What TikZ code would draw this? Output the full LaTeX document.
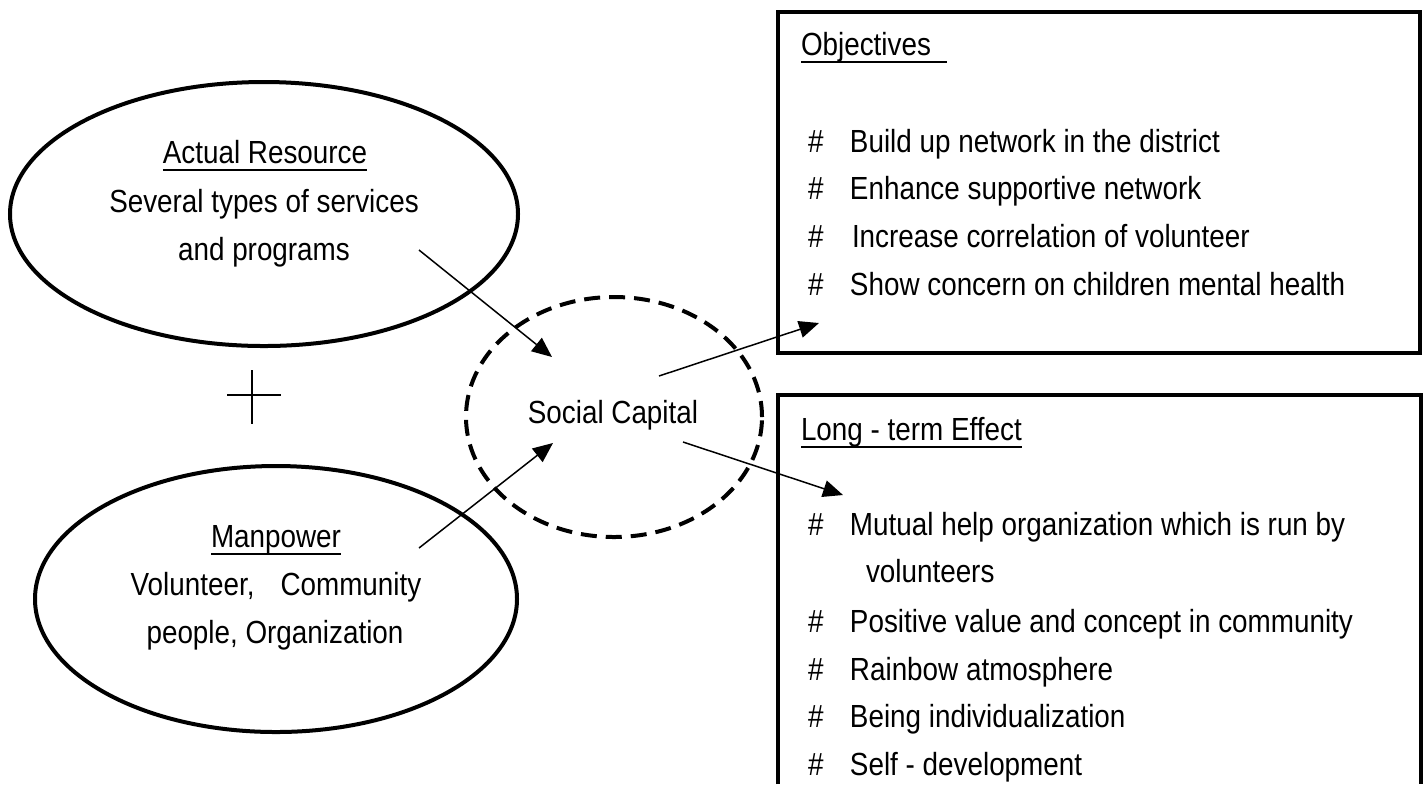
\documentclass[tikz,border=0pt]{standalone}
\usepackage{fontspec}
\setmainfont[FakeStretch=0.87]{Liberation Sans}
\usetikzlibrary{shapes.geometric,arrows.meta}
\newcommand{\hashmark}{\makebox[21pt][l]{\#}}
\begin{document}
\begin{tikzpicture}[x=0.5pt,y=-0.5pt,
  every node/.style={inner sep=0pt, outer sep=0pt},
  txt/.style={font=\fontsize{16pt}{19pt}\selectfont},
  ctext/.style={txt, anchor=base},
  ltext/.style={txt, anchor=base west},
  bigell/.style={draw, ellipse, line width=2pt},
  dashell/.style={draw, ellipse, line width=2pt, dash pattern=on 8pt off 4.5pt},
  frame/.style={draw, line width=2pt},
  uline/.style={line width=0.8pt},
  conn/.style={line width=0.75pt, -{Triangle[length=10pt,width=8.5pt]}},
  thinline/.style={line width=0.7pt}]
\useasboundingbox (0,0) rectangle (1428,784);

% ellipses
\node[bigell, minimum width=254pt, minimum height=132pt] (res) at (264,214) {};
\node[bigell, minimum width=241pt, minimum height=133pt] (man) at (276,599) {};
\node[dashell, minimum width=148pt, minimum height=120pt] (soc) at (614,417) {};

% top ellipse text
\node[ctext] (resT) at (265,163) {Actual Resource};
\node[ctext] (resA) at (264,212) {Several types of services};
\node[ctext] (resB) at (264,260) {and programs};
\draw[uline] ([yshift=-3.5pt]resT.base west) -- ([yshift=-3.5pt]resT.base east);

% bottom ellipse text
\node[ctext] (manT) at (276,547) {Manpower};
\node[ctext] (manA) at (276,595) {Volunteer,\hspace{13pt}Community};
\node[ctext] (manB) at (275,643) {people, Organization};
\draw[uline] ([yshift=-3.5pt]manT.base west) -- ([yshift=-3.5pt]manT.base east);

% plus sign
\coordinate (pt) at (252,370);
\coordinate (pb) at (252,424);
\coordinate (pl) at (227,395);
\coordinate (pr) at (281,395);
\draw[thinline] (pt) -- (pb);
\draw[thinline] (pl) -- (pr);

% social capital
\node[ctext] (socT) at (613,423) {Social Capital};

% objectives box
\coordinate (objNW) at (778,12);
\coordinate (objSE) at (1420,353);
\draw[frame] (objNW) rectangle (objSE);
\node[ltext] (objH) at (801,55) {Objectives};
\draw[uline] ([yshift=-3.5pt]objH.base west) -- ([yshift=-3.5pt,xshift=8pt]objH.base east);
\node[ltext] (o1) at (808,152) {\hashmark Build up network in the district};
\node[ltext] (o2) at (808,199) {\hashmark Enhance supportive network};
\node[ltext] (o3) at (808,247) {\hashmark\hspace{1pt}Increase correlation of volunteer};
\node[ltext] (o4) at (808,295) {\hashmark Show concern on children mental health};

% long-term box
\coordinate (ltBL) at (778,784);
\coordinate (ltTL) at (778,395);
\coordinate (ltTR) at (1421,395);
\coordinate (ltBR) at (1421,784);
\draw[frame] (ltBL) -- (ltTL) -- (ltTR) -- (ltBR);
\node[ltext] (ltH) at (801,440) {Long - term Effect};
\draw[uline] ([yshift=-3.5pt]ltH.base west) -- ([yshift=-3.5pt]ltH.base east);
\node[ltext] (l1) at (808,535) {\hashmark Mutual help organization which is run by};
\node[ltext] (l1b) at (866,582) {volunteers};
\node[ltext] (l2) at (808,632) {\hashmark Positive value and concept in community};
\node[ltext] (l3) at (808,680) {\hashmark Rainbow atmosphere};
\node[ltext] (l4) at (808,727) {\hashmark Being individualization};
\node[ltext] (l5) at (808,775) {\hashmark Self - development};

% connectors
\coordinate (a1s) at (419,250);
\coordinate (a1e) at (552,357);
\coordinate (a2s) at (419,548);
\coordinate (a2e) at (553,443);
\coordinate (a3s) at (659,376);
\coordinate (a3e) at (819,323);
\coordinate (a4s) at (683,442);
\coordinate (a4e) at (843,495);
\draw[conn] (a1s) -- (a1e);
\draw[conn] (a2s) -- (a2e);
\draw[conn] (a3s) -- (a3e);
\draw[conn] (a4s) -- (a4e);
\end{tikzpicture}
\end{document}
